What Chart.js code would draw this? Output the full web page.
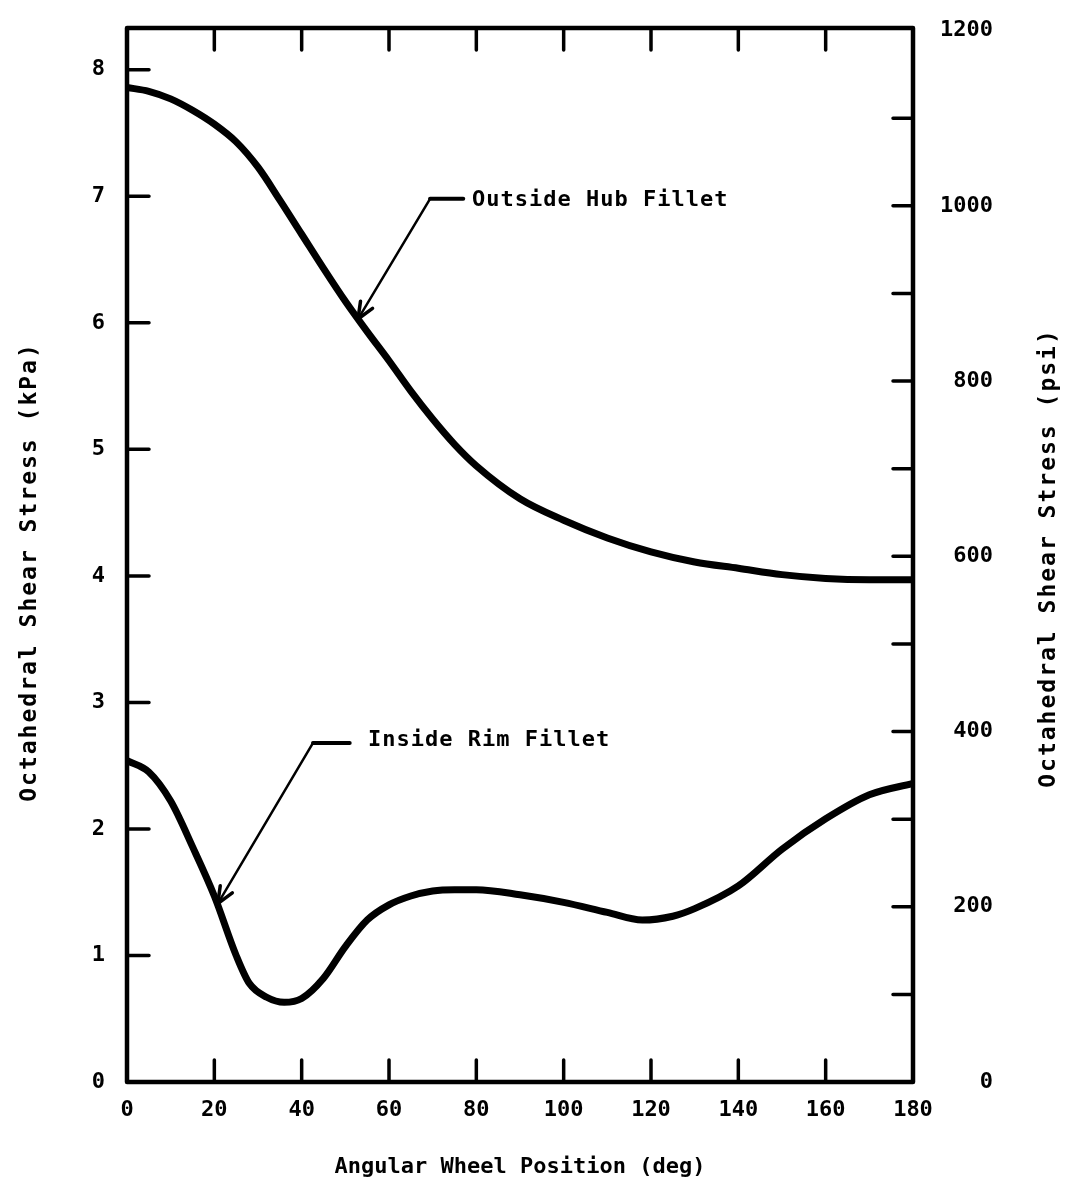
<!DOCTYPE html>
<html>
<head>
<meta charset="utf-8">
<script src="https://cdn.jsdelivr.net/npm/chart.js@4.4.1/dist/chart.umd.min.js"></script>
<style>
  html, body { margin: 0; padding: 0; background: #fff; }
  canvas { display: block; }
</style>
</head>
<body>
<canvas id="chart" width="1067" height="1194"></canvas>
<script>
// outside hub fillet, deg vs kPa
var hubAngles = [0, 5, 10, 15, 20, 25, 30, 35, 40, 45, 50, 55, 60, 65, 70, 75, 80, 90, 100, 110, 120, 130, 140, 150, 160, 170, 180];
var hubStress = [7.86, 7.83, 7.77, 7.68, 7.57, 7.43, 7.23, 6.97, 6.70, 6.43, 6.17, 5.93, 5.70, 5.46, 5.24, 5.04, 4.87, 4.61, 4.44, 4.30, 4.19, 4.11, 4.06, 4.01, 3.98, 3.97, 3.97];

// inside rim fillet
var rimAngles = [0, 5, 10, 15, 20, 25, 28, 32, 36, 40, 45, 50, 55, 60, 65, 70, 75, 80, 90, 100, 110, 118, 125, 130, 140, 150, 160, 170, 180];
var rimStress = [2.54, 2.45, 2.22, 1.86, 1.47, 1.00, 0.78, 0.67, 0.63, 0.66, 0.82, 1.07, 1.28, 1.40, 1.47, 1.51, 1.52, 1.52, 1.48, 1.42, 1.34, 1.28, 1.31, 1.37, 1.55, 1.84, 2.08, 2.27, 2.36];

var angleTicks = [0, 20, 40, 60, 80, 100, 120, 140, 160, 180];
var kpaTicks = [0, 1, 2, 3, 4, 5, 6, 7, 8];
var psiTicks = [0, 100, 200, 300, 400, 500, 600, 700, 800, 900, 1000, 1100, 1200];
var psiLabels = [0, 200, 400, 600, 800, 1000, 1200];

var KPA_MAX = 8.33;
var PSI_MAX = 1203;
var FONT = "'DejaVu Sans Mono', monospace";

function pairs(xs, ys) {
    return xs.map(function (x, i) { return { x: x, y: ys[i] }; });
}

function noPad(axis) {
    axis.paddingTop = 0; axis.paddingBottom = 0;
    axis.paddingLeft = 0; axis.paddingRight = 0;
}

var callouts = [
    { text: 'Outside Hub Fillet', label: [79, 6.97], elbow: [69.4, 6.98], knee: [77, 6.98], tip: [52.9, 6.03] },
    { text: 'Inside Rim Fillet', label: [55.2, 2.70], elbow: [42.6, 2.68], knee: [51, 2.68], tip: [20.8, 1.41] }
];

var framePlugin = {
    id: 'frame',
    afterDatasetsDraw: function (chart) {
        var ctx = chart.ctx;
        var a = chart.chartArea;
        var xs = chart.scales.x, ys = chart.scales.y, ps = chart.scales.y2;
        ctx.save();
        ctx.strokeStyle = '#000';
        ctx.lineCap = 'round';

        // inward tick marks
        ctx.lineWidth = 3.5;
        ctx.beginPath();
        angleTicks.forEach(function (v) {
            if (v === 0 || v === 180) return;
            var px = xs.getPixelForValue(v);
            ctx.moveTo(px, a.bottom); ctx.lineTo(px, a.bottom - 22);
            ctx.moveTo(px, a.top); ctx.lineTo(px, a.top + 22);
        });
        kpaTicks.forEach(function (v) {
            if (v === 0) return;
            var py = ys.getPixelForValue(v);
            ctx.moveTo(a.left, py); ctx.lineTo(a.left + 22, py);
        });
        psiTicks.forEach(function (v) {
            if (v === 0 || v === 1200) return;
            var py = ps.getPixelForValue(v);
            ctx.moveTo(a.right, py); ctx.lineTo(a.right - 20, py);
        });
        ctx.stroke();

        // box
        ctx.lineWidth = 4.5;
        ctx.lineJoin = 'round';
        ctx.strokeRect(a.left, a.top, a.right - a.left, a.bottom - a.top);

        // callouts
        ctx.fillStyle = '#000';
        ctx.font = 'bold 22px ' + FONT;
        ctx.letterSpacing = '1px';
        ctx.textBaseline = 'middle';
        ctx.textAlign = 'left';
        callouts.forEach(function (c) {
            var lx = xs.getPixelForValue(c.label[0]), ly = ys.getPixelForValue(c.label[1]);
            var ex = xs.getPixelForValue(c.elbow[0]), ey = ys.getPixelForValue(c.elbow[1]);
            var kx = xs.getPixelForValue(c.knee[0]), ky = ys.getPixelForValue(c.knee[1]);
            var tx = xs.getPixelForValue(c.tip[0]), ty = ys.getPixelForValue(c.tip[1]);
            ctx.fillText(c.text, lx, ly);
            ctx.lineWidth = 4;
            ctx.beginPath(); ctx.moveTo(ex, ey); ctx.lineTo(kx, ky); ctx.stroke();
            ctx.lineWidth = 2.5;
            ctx.beginPath(); ctx.moveTo(ex, ey); ctx.lineTo(tx, ty); ctx.stroke();
            var ang = Math.atan2(ey - ty, ex - tx);
            ctx.lineWidth = 3.5;
            ctx.beginPath();
            [0.4, -0.4].forEach(function (d) {
                ctx.moveTo(tx, ty);
                ctx.lineTo(tx + 18 * Math.cos(ang + d), ty + 18 * Math.sin(ang + d));
            });
            ctx.stroke();
        });

        // vertical axis titles, both read bottom to top
        ctx.font = 'bold 23px ' + FONT;
        ctx.letterSpacing = '2px';
        ctx.textAlign = 'center';
        [['Octahedral Shear Stress (kPa)', 30, 572], ['Octahedral Shear Stress (psi)', 1049, 558]].forEach(function (t) {
            ctx.save();
            ctx.translate(t[1], t[2]);
            ctx.rotate(-Math.PI / 2);
            ctx.fillText(t[0], 0, 0);
            ctx.restore();
        });
        ctx.restore();
    }
};

var tickFont = { family: FONT, size: 22, weight: 'bold' };

new Chart(document.getElementById('chart'), {
    type: 'line',
    data: {
        datasets: [{
            label: 'Outside Hub Fillet',
            data: pairs(hubAngles, hubStress),
            borderColor: '#000',
            borderWidth: 7,
            pointRadius: 0,
            cubicInterpolationMode: 'monotone',
            borderCapStyle: 'round',
            yAxisID: 'y'
        }, {
            label: 'Inside Rim Fillet',
            data: pairs(rimAngles, rimStress),
            borderColor: '#000',
            borderWidth: 7,
            pointRadius: 0,
            cubicInterpolationMode: 'monotone',
            borderCapStyle: 'round',
            yAxisID: 'y'
        }]
    },
    options: {
        responsive: false,
        animation: false,
        events: [],
        layout: { padding: { top: 28, left: 0, right: 0, bottom: 0 } },
        plugins: { legend: { display: false }, tooltip: { enabled: false } },
        scales: {
            x: {
                type: 'linear',
                min: 0, max: 180,
                afterBuildTicks: function (axis) { axis.ticks = angleTicks.map(function (v) { return { value: v }; }); },
                afterFit: function (axis) { axis.height = 112; noPad(axis); },
                grid: { display: false, drawTicks: false },
                border: { display: false },
                ticks: { color: '#000', font: tickFont, padding: 15, maxRotation: 0 },
                title: { display: true, text: 'Angular Wheel Position (deg)', color: '#000', font: { family: FONT, size: 22, weight: 'bold' }, padding: { top: 0, bottom: 14 } }
            },
            y: {
                type: 'linear',
                position: 'left',
                min: 0, max: KPA_MAX,
                afterBuildTicks: function (axis) { axis.ticks = kpaTicks.map(function (v) { return { value: v }; }); },
                afterFit: function (axis) { axis.width = 127; noPad(axis); },
                grid: { display: false, drawTicks: false },
                border: { display: false },
                ticks: { color: '#000', font: tickFont, padding: 22 }
            },
            y2: {
                type: 'linear',
                position: 'right',
                min: 0, max: PSI_MAX,
                afterBuildTicks: function (axis) { axis.ticks = psiLabels.map(function (v) { return { value: v }; }); },
                afterFit: function (axis) { axis.width = 154; noPad(axis); },
                grid: { display: false, drawTicks: false },
                border: { display: false },
                ticks: {
                    color: '#000', font: tickFont, padding: 27, crossAlign: 'near',
                    // monospace: pad so the numbers line up on the right
                    callback: function (v) { return String(v).padStart(4, ' '); }
                }
            }
        }
    },
    plugins: [framePlugin]
});
</script>
</body>
</html>
